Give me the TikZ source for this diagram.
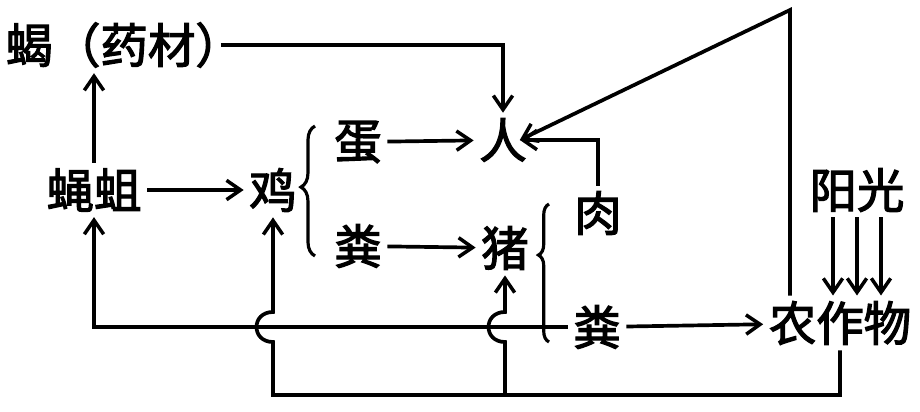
\documentclass[tikz,border=0pt]{standalone}
\usepackage{fontspec}
\newfontfamily\cjk[FakeBold=2.5]{Noto Sans CJK SC}
\usetikzlibrary{calc,arrows.meta,decorations.pathreplacing}

\begin{document}
\begin{tikzpicture}[
  x=0.02cm, y=-0.02cm,
  word/.style={font=\cjk\fontsize{27pt}{30pt}\selectfont, inner sep=3pt},
  wire/.style={line width=2.1pt},
  link/.style={wire, -{Straight Barb[length=8pt,width=11pt,line width=2pt]}},
  curly/.style={decorate, line width=1.8pt},
]
\useasboundingbox (0,0) rectangle (920,412);

\node[word, anchor=west] (xie) at (0,45) {蝎（药材）};
\node[word] (ren) at (503,140) {人};
\node[word] (dan) at (358,142) {蛋};
\node[word] (yingqu) at (94,190) {蝇蛆};
\node[word] (ji) at (273,190) {鸡};
\node[word] (fen1) at (358,246) {粪};
\node[word] (zhu) at (505,248) {猪};
\node[word] (rou) at (598,213) {肉};
\node[word] (fen2) at (597,327) {粪};
\node[word] (crop) at (840,323) {农作物};
\node[word] (sun) at (857,190) {阳光};

\coordinate (peak) at (790,10);
\coordinate (low) at (0,395);

% braces
\draw[curly, decoration={brace, amplitude=8pt, aspect=0.53}] (315,256) -- (315,126);
\draw[curly, decoration={brace, amplitude=6pt, aspect=0.63}] (549,342) -- (549,204);

\draw[link] (yingqu.north) -- (yingqu.north |- xie.south);
\draw[link] (yingqu) -- (ji);
\draw[link] (dan) -- (ren);
\draw[link] (fen1) -- (zhu);
\draw[link] ([xshift=-0.55cm]xie.east) -| (ren.north);
\draw[link] (rou.north) |- ([xshift=-0.25cm]ren.east);
\draw[link] (crop.north -| peak) -- (peak) -- ([xshift=-0.25cm]ren.east);
\foreach \dx in {-24,0,24}
  \draw[link] ($(sun.south)+(\dx,0)$) -- ($(sun.south |- crop.north)+(\dx,0)$);
\draw[link] (fen2) -- (crop);
\draw[link] (fen2.west) -| (yingqu.south);

% crossings hop over the long line
\draw[link] (crop.south) |- (low -| ji) -- ($(ji |- fen2.west)+(0,15)$)
  .. controls +(-22,0) and +(-22,0) .. ($(ji |- fen2.west)+(0,-15)$) -- (ji.south);
\draw[link] (low -| zhu) -- ($(zhu |- fen2.west)+(0,15)$)
  .. controls +(-22,0) and +(-22,0) .. ($(zhu |- fen2.west)+(0,-15)$) -- (zhu.south);

\end{tikzpicture}
\end{document}
